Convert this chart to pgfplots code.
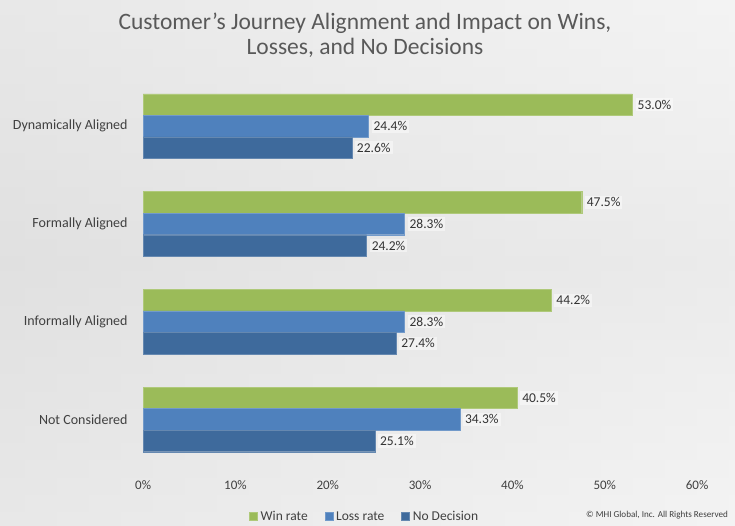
\documentclass[border=0pt]{standalone}
\usepackage{pgfplots}
\pgfplotsset{compat=1.18}
\usepackage{fontspec}
\setmainfont{Carlito}
\definecolor{cgreen}{HTML}{9BBB59}
\definecolor{cblue}{HTML}{4F81BD}
\definecolor{cdark}{HTML}{3E6A9C}
\definecolor{ctitle}{HTML}{595959}
\definecolor{ctext}{HTML}{404040}
\begin{document}
\begin{tikzpicture}[x=1pt,y=1pt]
\useasboundingbox (0,0) rectangle (735,526);
\shade[left color=black!15, right color=black!6] (0,0) rectangle (735,526);
\shade[top color=black!3, bottom color=black!3, middle color=black!9, opacity=0.5] (0,0) rectangle (735,526);
\node[font=\fontsize{23.5}{25}\selectfont, text=ctitle, align=center] at (365,491) {Customer’s Journey Alignment and Impact on Wins,\\Losses, and No Decisions};
\begin{axis}[
  at={(155,59)}, anchor=south west,
  scale only axis, width=554pt, height=391pt,
  xbar, bar width=0.22,
  xmin=0, xmax=60, ymin=-0.5, ymax=3.5,
  xtick={0,10,...,60},
  xticklabel={\pgfmathprintnumber{\tick}\%},
  ytick={0,1,2,3},
  yticklabels={Not Considered, Informally Aligned, Formally Aligned, Dynamically Aligned},
  /pgf/number format/assume math mode=true,
  axis line style={draw=none}, major tick length=0pt,
  ticklabel style={font=\fontsize{13}{15}\selectfont, text=ctext},
  yticklabel style={xshift=-12pt, font=\fontsize{14}{16}\selectfont},
  xticklabel style={yshift=-9pt},
  point meta=x,
  nodes near coords={\pgfmathprintnumber[fixed,fixed zerofill,precision=1]{\pgfplotspointmeta}\%},
  nodes near coords style={anchor=west, xshift=3pt, font=\fontsize{13.5}{15}\selectfont, text=ctext!80!black, fill=white, fill opacity=0.45, text opacity=1, inner sep=2pt},
  legend style={at={(0.40,-0.123)}, anchor=center, draw=none, fill=none, legend columns=3, font=\fontsize{13.5}{15}\selectfont, text=ctext, /tikz/every even column/.append style={column sep=15pt}},
  legend image code/.code={\fill[#1] (0pt,-4pt) rectangle (8pt,4pt);},
]
\addplot[fill=cgreen, draw=cgreen!80!white, bar shift=0.22] coordinates {(53.0,3) (47.5,2) (44.2,1) (40.5,0)};
\addplot[fill=cblue, draw=cblue!80!white, bar shift=0] coordinates {(24.4,3) (28.3,2) (28.3,1) (34.3,0)};
\addplot[fill=cdark, draw=cdark!80!white, bar shift=-0.22] coordinates {(22.6,3) (24.2,2) (27.4,1) (25.1,0)};
\legend{\hspace{1pt}Win rate, \hspace{1pt}Loss rate, \hspace{1pt}No Decision}
\end{axis}
\node[anchor=west, font=\fontsize{9.1}{11}\selectfont, text=ctext, inner sep=0] at (586,11) {© MHI Global, Inc. All Rights Reserved};
\end{tikzpicture}
\end{document}
